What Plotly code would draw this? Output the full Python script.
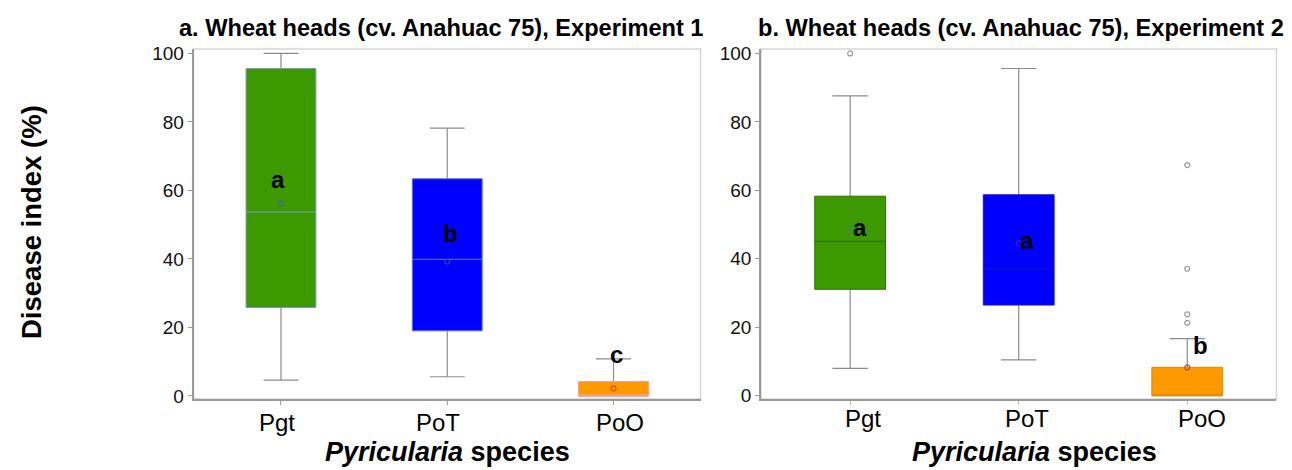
import plotly.graph_objects as go

# ---------------- data ----------------
species = ["Pgt", "PoT", "PoO"]
fill_colors = ["#3c9900", "#0000ff", "#ff9900"]

# Experiment 1
e1_lower = [4.6, 5.6, 0.0]
e1_q1 = [25.8, 19.0, 0.0]
e1_median = [53.7, 39.9, 0.0]
e1_q3 = [95.6, 63.4, 4.2]
e1_upper = [100.0, 78.2, 10.8]
e1_mean = [56.2, 39.2, 2.2]
e1_letters = ["a", "b", "c"]
e1_letter_y = [63.2, 47.4, 12.2]
e1_outliers = [[], [], []]

# Experiment 2
e2_lower = [8.0, 10.5, 0.0]
e2_q1 = [31.1, 26.5, 0.0]
e2_median = [45.1, 37.1, 0.0]
e2_q3 = [58.3, 58.7, 8.3]
e2_upper = [87.6, 95.6, 16.7]
e2_mean = [48.5, 44.5, 8.3]
e2_letters = ["a", "a", "b"]
e2_letter_y = [49.3, 45.3, 14.6]
e2_outliers = [[100.0], [], [67.4, 37.1, 23.8, 21.3]]

titles = ["a. Wheat heads (cv. Anahuac 75), Experiment 1",
          "b. Wheat heads (cv. Anahuac 75), Experiment 2"]
y_ticks = [0, 20, 40, 60, 80, 100]

# ---------------- styling ----------------
FONT = "Arial, Liberation Sans, sans-serif"
OFF = 8  # page body margin offset
W, H = 1292 - OFF, 470 - OFF


def px(xp):
    return (xp - OFF) / W


def py(yp):
    return 1 - (yp - OFF) / H


outline_e1 = ["#7f98c8", "#5a7ac0", "#f0a0a0"]
outline_e2 = ["#2d7000", "#1515c0", "#e08a00"]
mean_e1 = ["#3f6a9a", "#2a4aa0", "#e04040"]
mean_e2 = ["#3f8a6a", "#2a2ad0", "#d04040"]
letter_dx = [[-0.02, 0.02, 0.02], [0.058, 0.047, 0.076]]

fig = go.Figure()

panels = [
    dict(xa="x", ya="y", lower=e1_lower, q1=e1_q1, med=e1_median, q3=e1_q3, upper=e1_upper,
         mean=e1_mean, letters=e1_letters, ly=e1_letter_y, outl=e1_outliers,
         oline=outline_e1, mcol=mean_e1, dx=letter_dx[0]),
    dict(xa="x2", ya="y2", lower=e2_lower, q1=e2_q1, med=e2_median, q3=e2_q3, upper=e2_upper,
         mean=e2_mean, letters=e2_letters, ly=e2_letter_y, outl=e2_outliers,
         oline=outline_e2, mcol=mean_e2, dx=letter_dx[1]),
]

for p in panels:
    for i in range(3):
        # whiskers (gray)
        fig.add_trace(go.Box(
            x=[i], q1=[p["med"][i]], median=[p["med"][i]], q3=[p["med"][i]],
            lowerfence=[p["lower"][i]], upperfence=[p["upper"][i]],
            width=0.42, whiskerwidth=0.5, fillcolor="rgba(0,0,0,0)",
            line=dict(color="#8c8c8c", width=1.2), boxpoints=False,
            xaxis=p["xa"], yaxis=p["ya"], showlegend=False, hoverinfo="skip"))
        # box body
        fig.add_trace(go.Box(
            x=[i], q1=[p["q1"][i]], median=[p["med"][i]], q3=[p["q3"][i]],
            lowerfence=[p["q1"][i]], upperfence=[p["q3"][i]],
            width=0.42, whiskerwidth=0, fillcolor=fill_colors[i],
            line=dict(color=p["oline"][i], width=1), boxpoints=False,
            xaxis=p["xa"], yaxis=p["ya"], showlegend=False))
    # means
    for i in range(3):
        fig.add_trace(go.Scatter(
            x=[i], y=[p["mean"][i]], mode="markers",
            marker=dict(symbol="circle-open", size=5, color=p["mcol"][i], line=dict(width=1.2)),
            xaxis=p["xa"], yaxis=p["ya"], showlegend=False))
    # outliers
    for i in range(3):
        if p["outl"][i]:
            fig.add_trace(go.Scatter(
                x=[i] * len(p["outl"][i]), y=p["outl"][i], mode="markers",
                marker=dict(symbol="circle-open", size=5, color="#999999", line=dict(width=1.2)),
                xaxis=p["xa"], yaxis=p["ya"], showlegend=False))
    # letters
    for i in range(3):
        fig.add_annotation(x=i + p["dx"][i], y=p["ly"][i], xref=p["xa"], yref=p["ya"],
                           text=p["letters"][i], showarrow=False, xanchor="center", yanchor="middle",
                           font=dict(family=FONT, size=24, color="black", weight="bold"))

dom1 = [px(193.5), px(700.5)]
dom2 = [px(761), px(1276.4)]
ydom = [py(399), py(49)]

axis_common = dict(showgrid=False, zeroline=False, showline=True, linecolor="#9a9a9a",
                   linewidth=1.5, automargin=False)
fig.update_layout(
    width=W, height=H, margin=dict(l=0, r=0, t=0, b=0),
    plot_bgcolor="white", paper_bgcolor="white", boxmode="overlay",
    font=dict(family=FONT, color="#111"),
    xaxis=dict(domain=dom1, range=[-0.526, 2.523], tickvals=[0, 1, 2], ticktext=["", "", ""],
               ticks="outside", ticklen=4, tickcolor="#9a9a9a", anchor="y", **axis_common),
    yaxis=dict(domain=ydom, range=[-0.9, 101.3], tickvals=y_ticks, ticks="outside", ticklen=4,
               tickcolor="#9a9a9a", tickfont=dict(size=19, color="#111"), anchor="x", **axis_common),
    xaxis2=dict(domain=dom2, range=[-0.529, 2.529], tickvals=[0, 1, 2], ticktext=["", "", ""],
                ticks="outside", ticklen=4, tickcolor="#bbbbbb", anchor="y2", **axis_common),
    yaxis2=dict(domain=ydom, range=[-0.95, 101.3], tickvals=y_ticks, ticks="outside", ticklen=4,
                tickcolor="#9a9a9a", tickfont=dict(size=19, color="#111"), anchor="x2", **axis_common),
)

# light frame around each plot area
for xr, yr in [("x domain", "y domain"), ("x2 domain", "y2 domain")]:
    fig.add_shape(type="rect", xref=xr, yref=yr, x0=0, x1=1, y0=0, y1=1,
                  line=dict(color="#d6d6d6", width=1.5), layer="below")

# panel titles
for cx, t in zip([441, 1021], titles):
    fig.add_annotation(x=px(cx), y=py(28), xref="paper", yref="paper", text=t,
                       xanchor="center", yanchor="middle", showarrow=False,
                       font=dict(size=23.6, weight="bold", color="black"))

# category labels (positioned as in the source figure)
lab_x = [[277, 438, 620], [863, 1027, 1202]]
lab_y = [422, 418]
for k in range(2):
    for i in range(3):
        fig.add_annotation(x=px(lab_x[k][i]), y=py(lab_y[k]), xref="paper", yref="paper",
                           text=species[i], showarrow=False, xanchor="center", yanchor="middle",
                           font=dict(size=24, color="black"))

# axis titles
for cx in [447, 1034]:
    fig.add_annotation(x=px(cx), y=py(452), xref="paper", yref="paper",
                       text="<i>Pyricularia</i> species", showarrow=False,
                       xanchor="center", yanchor="middle",
                       font=dict(size=27, weight="bold", color="black"))
fig.add_annotation(x=px(31), y=py(222), xref="paper", yref="paper", text="Disease index (%)",
                   textangle=-90, showarrow=False, xanchor="center", yanchor="middle",
                   font=dict(size=27.5, weight="bold", color="black"))

fig.write_html("out.html")
